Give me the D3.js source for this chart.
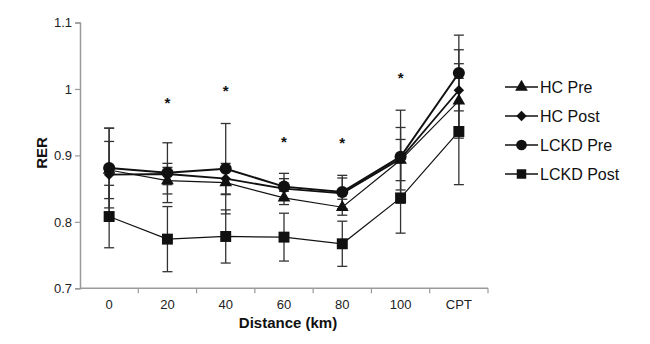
<!DOCTYPE html>
<html>
<head>
<meta charset="utf-8">
<script src="https://cdn.jsdelivr.net/npm/d3@7"></script>
<style>
  body { margin: 0; background: #fff; }
  text { font-family: "Liberation Sans", Arial, sans-serif; }
</style>
</head>
<body>
<script>
var width = 650,
    height = 344;

// data
var categories = ["0", "20", "40", "60", "80", "100", "CPT"];
var seriesNames = ["HC Pre", "HC Post", "LCKD Pre", "LCKD Post"];
var hcPre    = [0.878, 0.862, 0.859, 0.836, 0.822, 0.893, 0.982];
var hcPost   = [0.871, 0.872, 0.865, 0.850, 0.843, 0.895, 0.998];
var lckdPre  = [0.881, 0.874, 0.880, 0.853, 0.845, 0.898, 1.024];
var lckdPost = [0.808, 0.774, 0.778, 0.777, 0.767, 0.836, 0.936];
var hcPreSd    = [0.043, 0.020, 0.018, 0.010, 0.012, 0.031, 0.056];
var hcPostSd   = [0.070, 0.016, 0.023, 0.015, 0.023, 0.047, 0.061];
var lckdPreSd  = [0.060, 0.045, 0.068, 0.020, 0.025, 0.070, 0.057];
var lckdPostSd = [0.047, 0.049, 0.040, 0.036, 0.034, 0.053, 0.080];
// significance markers (category, level)
var sigCats   = ["20", "40", "60", "80", "100"];
var sigLevels = [0.983, 1.001, 0.924, 0.923, 1.021];
var yTicks = [0.7, 0.8, 0.9, 1, 1.1];

var series = [
  {name: seriesNames[0], values: hcPre,    sd: hcPreSd,    symbol: d3.symbolTriangle, size: 70,  rot: 0,  lw: 1.2},
  {name: seriesNames[1], values: hcPost,   sd: hcPostSd,   symbol: d3.symbolSquare,   size: 55,  rot: 45, lw: 1.8},
  {name: seriesNames[3], values: lckdPost, sd: lckdPostSd, symbol: d3.symbolSquare,   size: 120, rot: 0,  lw: 1.2},
  {name: seriesNames[2], values: lckdPre,  sd: lckdPreSd,  symbol: d3.symbolCircle,   size: 115, rot: 0,  lw: 2}
];

var svg = d3.select("body").append("svg")
    .attr("width", width)
    .attr("height", height);

var x = d3.scaleBand()
    .domain(categories)
    .range([80, 488])
    .padding(0);

var y = d3.scaleLinear()
    .domain([0.7, 1.1])
    .range([288.3, 22.5]);

function cx(c) { return x(c) + x.bandwidth() / 2; }

// axes
var axisColor = "#9a9a9a";

var yAxis = svg.append("g")
    .attr("transform", "translate(80,0)")
    .call(d3.axisLeft(y).tickValues(yTicks).tickSize(5).tickPadding(3)
      .tickFormat(function(d){ return d === 1 ? "1" : d3.format(".1f")(d); }));

var xAxisG = svg.append("g")
    .attr("transform", "translate(0," + y(0.7) + ")");
xAxisG.append("line")
    .attr("x1", 80).attr("x2", 488)
    .attr("stroke", axisColor).attr("stroke-width", 1.5);
xAxisG.selectAll(".xt")
    .data(categories.slice(1).concat(["__end"]))
    .enter().append("line")
    .attr("x1", function(d, i){ return x(categories[0]) + (i + 1) * x.bandwidth(); })
    .attr("x2", function(d, i){ return x(categories[0]) + (i + 1) * x.bandwidth(); })
    .attr("y1", 0).attr("y2", 5)
    .attr("stroke", axisColor).attr("stroke-width", 1.2);
xAxisG.selectAll(".xl")
    .data(categories)
    .enter().append("text")
    .attr("x", cx)
    .attr("y", 21)
    .attr("text-anchor", "middle")
    .attr("font-size", 13)
    .attr("fill", "#222")
    .text(function(d){ return d; });

yAxis.select(".domain").attr("stroke", axisColor).attr("stroke-width", 1.5);
yAxis.selectAll(".tick line").attr("stroke", axisColor).attr("stroke-width", 1.2);
yAxis.selectAll(".tick text")
    .attr("font-size", 13)
    .attr("fill", "#222")
    .style("font-family", "'Liberation Sans', Arial, sans-serif");

// axis titles
svg.append("text")
    .attr("transform", "translate(47,153) rotate(-90)")
    .attr("text-anchor", "middle")
    .attr("font-size", 15)
    .attr("font-weight", "bold")
    .attr("fill", "#111")
    .text("RER");

svg.append("text")
    .attr("x", 288)
    .attr("y", 328)
    .attr("text-anchor", "middle")
    .attr("font-size", 15)
    .attr("font-weight", "bold")
    .attr("fill", "#111")
    .text("Distance (km)");

// error bars
var errG = svg.append("g");
series.forEach(function(s) {
  categories.forEach(function(c, i) {
    var lo = s.values[i] - s.sd[i], hi = s.values[i] + s.sd[i];
    var px = cx(c);
    errG.append("line")
      .attr("x1", px).attr("x2", px)
      .attr("y1", y(lo)).attr("y2", y(hi))
      .attr("stroke", "#333").attr("stroke-width", 1.3);
    [lo, hi].forEach(function(v) {
      errG.append("line")
        .attr("x1", px - 5).attr("x2", px + 5)
        .attr("y1", y(v)).attr("y2", y(v))
        .attr("stroke", "#333").attr("stroke-width", 1.3);
    });
  });
});

// lines and markers
var line = d3.line()
    .x(function(d, i){ return cx(categories[i]); })
    .y(function(d){ return y(d); });

series.forEach(function(s) {
  svg.append("path")
    .attr("d", line(s.values))
    .attr("fill", "none")
    .attr("stroke", "#111")
    .attr("stroke-width", s.lw);
});

series.forEach(function(s) {
  svg.append("g").selectAll("path")
    .data(s.values)
    .enter().append("path")
    .attr("d", d3.symbol().type(s.symbol).size(s.size))
    .attr("transform", function(d, i){
      return "translate(" + cx(categories[i]) + "," + y(d) + ") rotate(" + s.rot + ")";
    })
    .attr("fill", "#111");
});

// significance stars
svg.append("g").selectAll("text")
    .data(sigCats)
    .enter().append("text")
    .attr("x", function(d){ return cx(d); })
    .attr("y", function(d, i){ return y(sigLevels[i]) + 8; })
    .attr("text-anchor", "middle")
    .attr("font-size", 15)
    .attr("font-weight", "bold")
    .attr("fill", "#111")
    .text("*");

// legend
var legendOrder = [
  {name: seriesNames[0], symbol: d3.symbolTriangle, size: 70, rot: 0},
  {name: seriesNames[1], symbol: d3.symbolSquare, size: 55, rot: 45},
  {name: seriesNames[2], symbol: d3.symbolCircle, size: 90, rot: 0},
  {name: seriesNames[3], symbol: d3.symbolSquare, size: 90, rot: 0}
];
var legend = svg.append("g")
    .selectAll("g")
    .data(legendOrder)
    .enter().append("g")
    .attr("transform", function(d, i){ return "translate(505," + (87 + i * 29) + ")"; });

legend.append("line")
    .attr("x1", 0).attr("x2", 33)
    .attr("stroke", "#111").attr("stroke-width", 1.5);
legend.append("path")
    .attr("d", function(d){ return d3.symbol().type(d.symbol).size(d.size)(); })
    .attr("transform", function(d){ return "translate(16.5,0) rotate(" + d.rot + ")"; })
    .attr("fill", "#111");
legend.append("text")
    .attr("x", 35)
    .attr("y", 5.5)
    .attr("font-size", 16)
    .attr("fill", "#111")
    .text(function(d){ return d.name; });
</script>
</body>
</html>
